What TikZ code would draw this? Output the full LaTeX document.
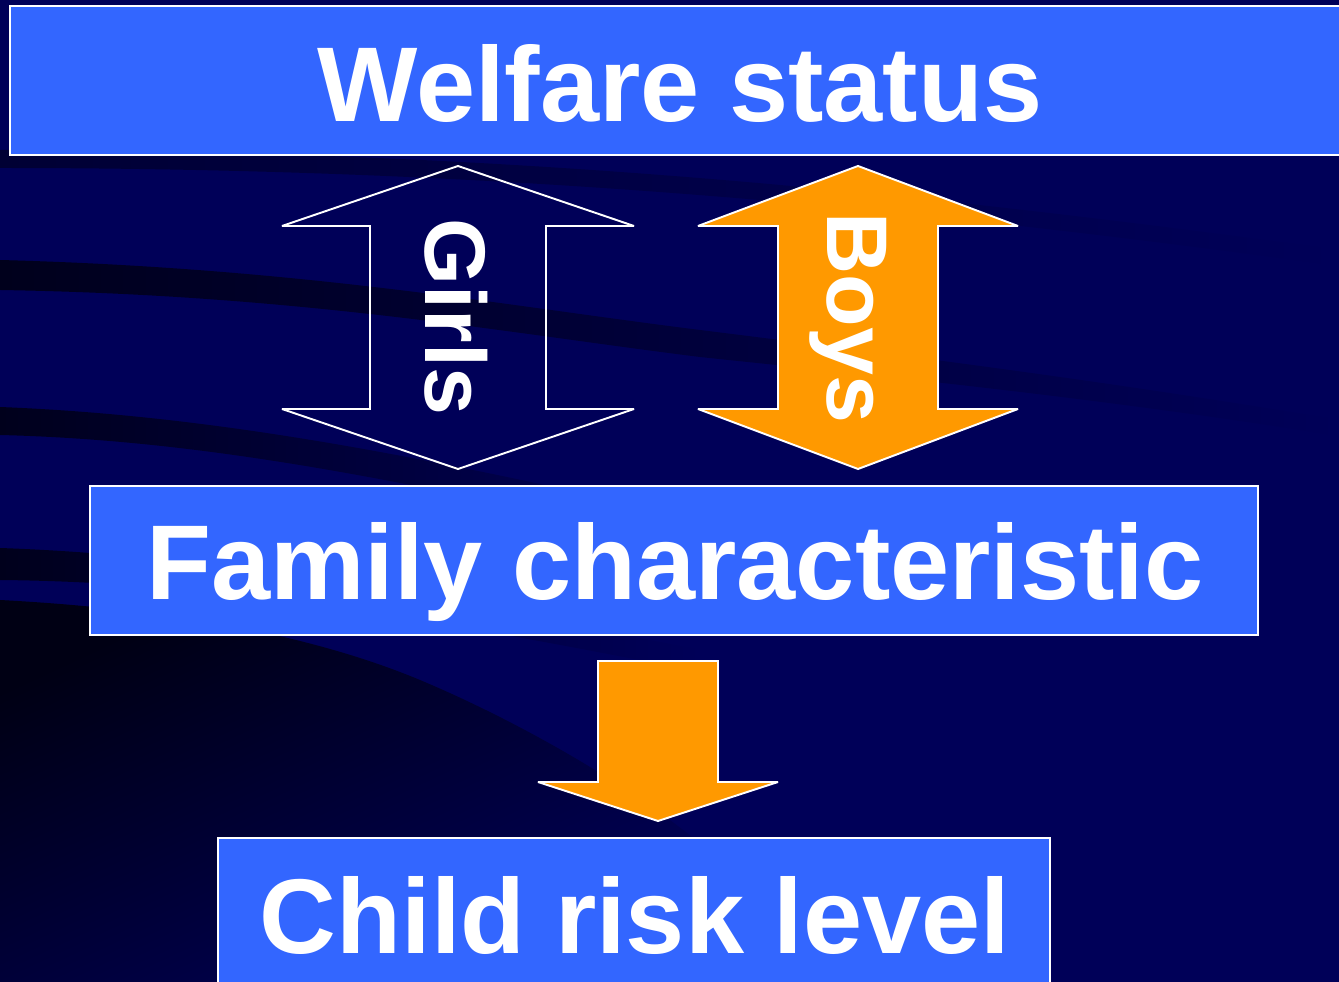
\documentclass[tikz,border=0pt]{standalone}
\usepackage{fontspec}
\setmainfont{Liberation Sans}
\definecolor{navybg}{RGB}{0,0,88}
\definecolor{darkbg}{RGB}{0,0,28}
\definecolor{boxblue}{RGB}{51,102,255}
\definecolor{arrorange}{RGB}{255,153,0}
\tikzset{
  panel/.style={fill=boxblue, draw=white, line width=1.1pt},
  title/.style={text=white, font=\fontsize{60.5}{61}\selectfont\bfseries, inner sep=0pt, anchor=base},
  tag/.style={text=white, font=\fontsize{49}{49}\selectfont\bfseries, inner sep=0pt, anchor=base, rotate=-90},
  hollowarrow/.style={draw=white, line width=1.1pt, miter limit=3},
  orangearrow/.style={fill=arrorange, draw=white, line width=1.1pt, miter limit=3}
}
\begin{document}
\begin{tikzpicture}[x=0.02cm, y=-0.02cm]
  \useasboundingbox (0,0) rectangle (1339,982);
  \clip (0,0) rectangle (1339,982);
  % background and swooshes
  \fill[navybg] (0,0) rectangle (1339,982);
  \shade[left color=darkbg!60!navybg, right color=navybg] (0,150) .. controls (500,150) and (900,190) .. (1339,250) -- (1339,266) .. controls (900,206) and (500,168) .. (0,168) -- cycle;
  \shade[left color=darkbg, right color=navybg] (0,260) .. controls (300,268) and (500,305) .. (700,330) .. controls (900,355) and (1100,380) .. (1339,420) -- (1339,436) .. controls (1100,398) and (900,378) .. (700,357) .. controls (500,332) and (300,295) .. (0,290) -- cycle;
  \shade[left color=darkbg, right color=navybg] (0,407) .. controls (200,415) and (400,450) .. (700,520) -- (700,548) .. controls (400,478) and (200,440) .. (0,435) -- cycle;
  \shade[left color=darkbg, right color=navybg] (0,548) .. controls (200,555) and (400,590) .. (700,650) -- (700,672) .. controls (400,612) and (200,582) .. (0,580) -- cycle;
  \shade[top color=darkbg!70!black, bottom color=navybg, shading angle=25] (0,600) .. controls (150,608) and (300,630) .. (420,680) .. controls (520,722) and (640,790) .. (720,860) -- (720,982) -- (0,982) -- cycle;

  % boxes
  \filldraw[panel] (10,6) rectangle (1345,155);
  \node[title] (welfare) at (680,122) {Welfare status};

  \filldraw[panel] (90,486) rectangle (1258,635);
  \node[title] (family) at (675,600) {Family characteristic};

  \filldraw[panel] (218,838) rectangle (1050,990);
  \node[title] (child) at (635,953) {Child risk level};

  % arrows
  \draw[hollowarrow] (458,166) -- (634,226) -- (546,226) -- (546,409) -- (634,409) -- (458,469)
    -- (282,409) -- (370,409) -- (370,226) -- (282,226) -- cycle;
  \node[tag] (girls) at (425,317) {Girls};

  \filldraw[orangearrow] (858,166) -- (1018,226) -- (938,226) -- (938,409) -- (1018,409) -- (858,469)
    -- (698,409) -- (778,409) -- (778,226) -- (698,226) -- cycle;
  \node[tag] (boys) at (827,318) {Boys};

  \filldraw[orangearrow] (598,661) -- (718,661) -- (718,782) -- (778,782) -- (658,821) -- (538,782)
    -- (598,782) -- cycle;
\end{tikzpicture}
\end{document}
